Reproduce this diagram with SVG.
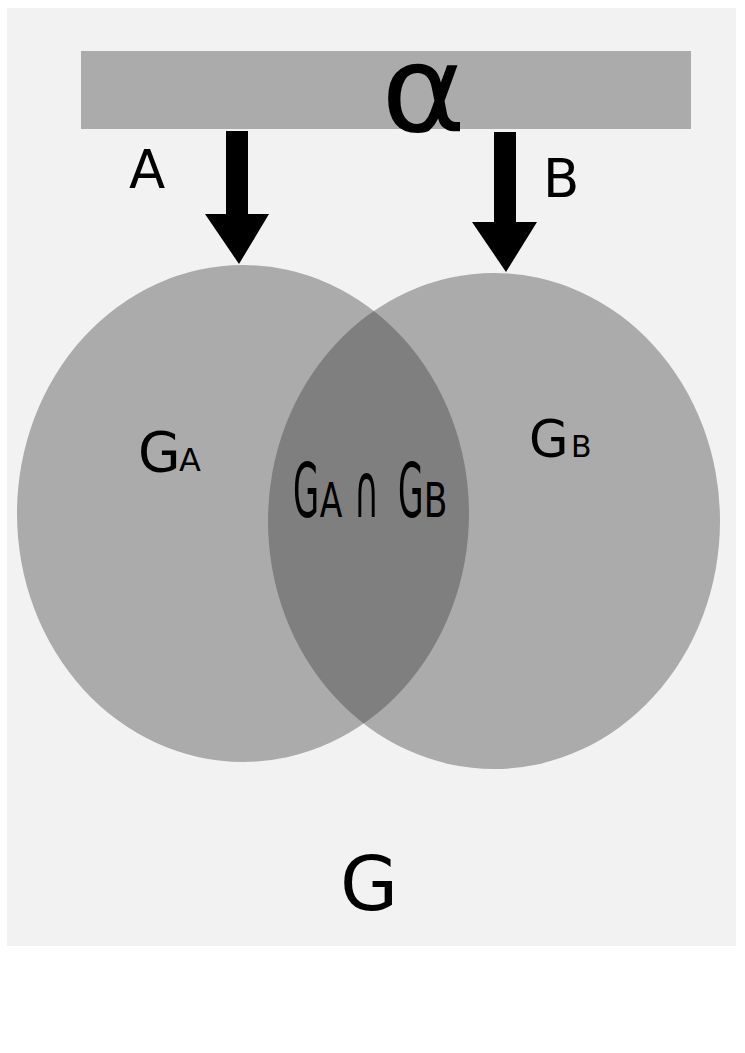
<svg xmlns="http://www.w3.org/2000/svg" width="745" height="1053" viewBox="0 0 745 1053">
<defs>
<style>
.t{font-family:"DejaVu Sans",sans-serif;fill:#000}
.blob{fill:#ababab}
.arrow{fill:#000}
</style>
<clipPath id="clipL"><ellipse cx="243" cy="513.5" rx="226" ry="248.5"/></clipPath>
</defs>
<rect x="0" y="0" width="745" height="1053" fill="#fff"/>
<g id="frame"><rect x="7" y="8" width="729" height="938" fill="#f2f2f2"/></g>
<g id="alpha-bar">
<rect x="81" y="51" width="610" height="78" fill="#ababab"/>
<text class="t" transform="translate(381,131) scale(1.06,1)" font-size="122">α</text>
</g>
<g id="set-GA"><ellipse class="blob" cx="243" cy="513.5" rx="226" ry="248.5"/></g>
<g id="set-GB"><ellipse class="blob" cx="494" cy="521" rx="226" ry="248"/></g>
<g id="intersection"><ellipse cx="494" cy="521" rx="226" ry="248" fill="#7f7f7f" clip-path="url(#clipL)"/></g>
<g id="connectors">
<polygon class="arrow" points="226,131 248,131 248,214 269,214 239,264 205,214 226,214"/>
<polygon class="arrow" points="494,132 516,132 516,222 537,222 506,272 472,222 494,222"/>
</g>
<g id="labels">
<text class="t" x="129" y="188" font-size="53">A</text>
<text class="t" x="543" y="197" font-size="53">B</text>
<text class="t" x="138" y="471" font-size="55">G<tspan font-size="32" x="179">A</tspan></text>
<text class="t" x="529" y="457" font-size="51">G<tspan font-size="30" x="571">B</tspan></text>
<g id="intersection-label">
<text class="t" transform="translate(293,517) scale(0.45,1)" font-size="75">G</text>
<text class="t" transform="translate(319.7,517) scale(0.69,1)" font-size="48">A</text>
<text class="t" transform="translate(354,517) scale(0.45,1)" font-size="76">∩</text>
<text class="t" transform="translate(398,517) scale(0.44,1)" font-size="75">G</text>
<text class="t" transform="translate(423.8,517) scale(0.72,1)" font-size="48">B</text>
</g>
<text class="t" x="340" y="910" font-size="75">G</text>
</g>
</svg>
